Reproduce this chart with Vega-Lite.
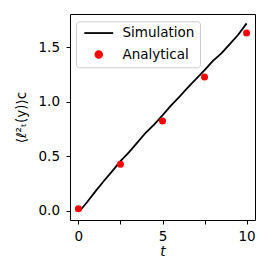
{
  "$schema": "https://vega.github.io/schema/vega-lite/v6.json",
  "width": 185,
  "height": 206,
  "autosize": "none",
  "padding": {"left": 70, "top": 14, "right": 20, "bottom": 55},
  "background": "white",
  "config": {
    "font": "DejaVu Sans",
    "view": {"stroke": "black", "strokeWidth": 1},
    "axis": {
      "grid": false,
      "domain": false,
      "tickColor": "black",
      "tickSize": 4,
      "tickWidth": 1,
      "labelColor": "black",
      "labelFontSize": 13.5,
      "labelFont": "DejaVu Sans",
      "titleFont": "DejaVu Sans",
      "titleFontSize": 13.5,
      "titleFontWeight": "normal",
      "titleColor": "black"
    },
    "legend": {
      "orient": "none",
      "legendX": 6,
      "legendY": 7.3,
      "fillColor": "white",
      "strokeColor": "#cccccc",
      "cornerRadius": 3,
      "padding": 5,
      "labelFontSize": 13.5,
      "labelFont": "DejaVu Sans",
      "labelColor": "black",
      "symbolSize": 45,
      "symbolOffset": 11,
      "labelOffset": 17,
      "rowPadding": 6.5,
      "symbolStrokeWidth": 1.8
    }
  },
  "datasets": {
    "sim": [
      {"t": 0.15, "v": 0.01, "series": "Simulation"},
      {"t": 0.5, "v": 0.075, "series": "Simulation"},
      {"t": 1.0, "v": 0.175, "series": "Simulation"},
      {"t": 1.5, "v": 0.27, "series": "Simulation"},
      {"t": 2.0, "v": 0.36, "series": "Simulation"},
      {"t": 2.5, "v": 0.455, "series": "Simulation"},
      {"t": 3.0, "v": 0.535, "series": "Simulation"},
      {"t": 3.5, "v": 0.625, "series": "Simulation"},
      {"t": 4.0, "v": 0.715, "series": "Simulation"},
      {"t": 4.5, "v": 0.79, "series": "Simulation"},
      {"t": 5.0, "v": 0.875, "series": "Simulation"},
      {"t": 5.5, "v": 0.965, "series": "Simulation"},
      {"t": 6.0, "v": 1.045, "series": "Simulation"},
      {"t": 6.5, "v": 1.13, "series": "Simulation"},
      {"t": 7.0, "v": 1.21, "series": "Simulation"},
      {"t": 7.5, "v": 1.29, "series": "Simulation"},
      {"t": 8.0, "v": 1.375, "series": "Simulation"},
      {"t": 8.5, "v": 1.445, "series": "Simulation"},
      {"t": 9.0, "v": 1.53, "series": "Simulation"},
      {"t": 9.5, "v": 1.615, "series": "Simulation"},
      {"t": 10.0, "v": 1.72, "series": "Simulation"}
    ],
    "ana": [
      {"t": 0, "v": 0.018, "series": "Analytical"},
      {"t": 2.5, "v": 0.425, "series": "Analytical"},
      {"t": 5, "v": 0.824, "series": "Analytical"},
      {"t": 7.5, "v": 1.227, "series": "Analytical"},
      {"t": 10, "v": 1.632, "series": "Analytical"}
    ]
  },
  "layer": [
    {
      "data": {"name": "sim"},
      "mark": {"type": "line", "strokeWidth": 1.8, "clip": true},
      "encoding": {
        "x": {"field": "t", "type": "quantitative", "scale": {"domain": [-0.5, 10.5], "nice": false, "zero": false},
              "axis": {"values": [0, 2.5, 5, 7.5, 10], "labelExpr": "datum.value % 5 === 0 ? datum.label : ''", "title": "t", "titleFontStyle": "italic", "labelPadding": 5, "titlePadding": 2}},
        "y": {"field": "v", "type": "quantitative", "scale": {"domain": [-0.086, 1.806], "nice": false, "zero": false},
              "axis": {"values": [0, 0.5, 1.0, 1.5], "format": ".1f", "title": "⟨ℓ²ₜ(y)⟩c", "labelPadding": 6.5, "titlePadding": 10}},
        "color": {"field": "series", "type": "nominal",
                  "scale": {"domain": ["Simulation", "Analytical"], "range": ["black", "red"]},
                  "legend": {"title": null, "encode": {"symbols": {"update": {"stroke": {"scale": "color", "field": "value"}}}}}}
      }
    },
    {
      "data": {"name": "ana"},
      "mark": {"type": "point", "filled": true, "opacity": 1, "size": 49},
      "encoding": {
        "x": {"field": "t", "type": "quantitative"},
        "y": {"field": "v", "type": "quantitative"},
        "color": {"field": "series", "type": "nominal",
                  "legend": {"title": null, "encode": {"symbols": {"update": {"stroke": {"scale": "color", "field": "value"}}}}}},
        "shape": {"field": "series", "type": "nominal",
                  "scale": {"domain": ["Simulation", "Analytical"], "range": ["M-4.3,0L4.3,0", "circle"]},
                  "legend": {"title": null}}
      }
    }
  ]
}
